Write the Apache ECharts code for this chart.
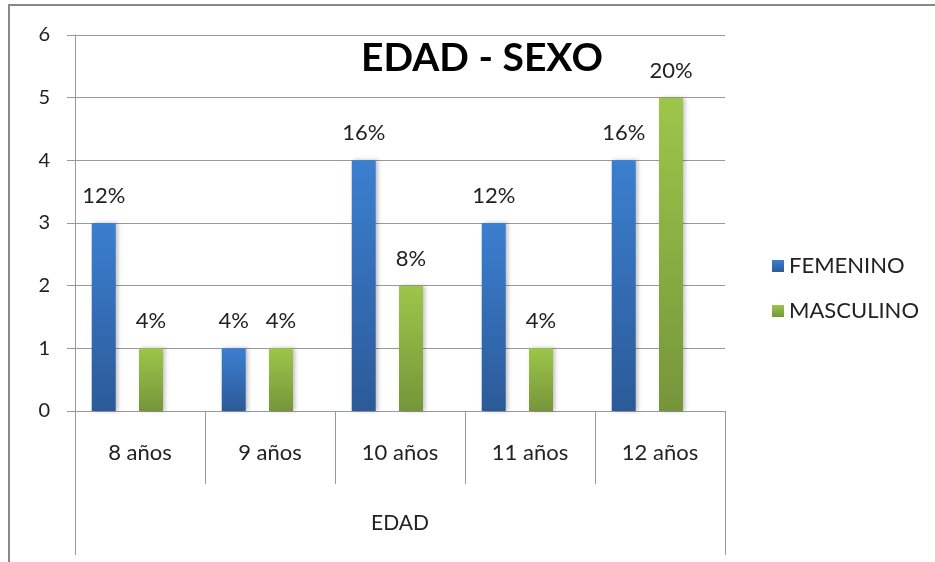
<!DOCTYPE html>
<html>
<head>
<meta charset="utf-8">
<script src="https://cdn.jsdelivr.net/npm/echarts@6/dist/echarts.min.js"></script>
<style>
  html, body { margin: 0; padding: 0; background: #fff; }
  #chart { width: 935px; height: 562px; }
</style>
</head>
<body>
<div id="chart"></div>
<script>
// datos
var categorias = ['8 años', '9 años', '10 años', '11 años', '12 años'];
var femenino = [3, 1, 4, 3, 4];
var masculino = [1, 1, 2, 1, 5];
var pctFemenino = ['12%', '4%', '16%', '12%', '16%'];
var pctMasculino = ['4%', '4%', '8%', '4%', '20%'];

var fuente = 'Lato, "Open Sans", sans-serif';

var myChart = echarts.init(document.getElementById('chart'));

var option = {
    backgroundColor: '#fff',
    animation: false,
    title: {
        text: 'EDAD - SEXO',
        left: 477,
        textAlign: 'center',
        top: 34,
        textStyle: { fontFamily: fuente, fontSize: 39, fontWeight: 'bold', color: '#000' }
    },
    legend: {
        orient: 'vertical',
        left: 767,
        top: 250,
        itemWidth: 12,
        itemHeight: 12,
        itemGap: 23,
        icon: 'rect',
        data: ['FEMENINO', 'MASCULINO'],
        textStyle: { fontFamily: fuente, fontSize: 22, color: '#222' }
    },
    graphic: [{
        type: 'rect',
        shape: { x: 9, y: 5, width: 940, height: 600 },
        style: { fill: 'none', stroke: '#888', lineWidth: 2 },
        silent: true
    }],
    grid: {
        left: 75,
        right: 210,
        top: 35,
        bottom: 151
    },
    xAxis: [{
        type: 'category',
        data: categorias,
        position: 'bottom',
        axisLine: { lineStyle: { color: '#999', width: 1 } },
        axisTick: { show: true, length: 73, lineStyle: { color: '#999' } },
        axisLabel: { margin: 31, fontFamily: fuente, fontSize: 22, color: '#222' }
    }, {
        type: 'category',
        data: ['EDAD'],
        position: 'bottom',
        axisLine: { show: false },
        axisTick: { show: true, length: 144, lineStyle: { color: '#999' } },
        axisLabel: { margin: 102, fontFamily: fuente, fontSize: 21, color: '#222' }
    }],
    yAxis: {
        type: 'value',
        min: 0,
        max: 6,
        interval: 1,
        axisLine: { show: true, lineStyle: { color: '#999' } },
        axisTick: { show: true, length: 8, lineStyle: { color: '#999' } },
        axisLabel: { margin: 25, fontFamily: fuente, fontSize: 20, color: '#222' },
        splitLine: { lineStyle: { color: '#999' } }
    },
    series: [
        {
            name: 'FEMENINO',
            type: 'bar',
            data: femenino,
            barWidth: 24,
            itemStyle: {
                color: new echarts.graphic.LinearGradient(0, 0, 0, 1, [
                    { offset: 0, color: '#3b7fd0' },
                    { offset: 1, color: '#2c5a98' }
                ]),
                shadowBlur: 4,
                shadowOffsetX: 2,
                shadowColor: 'rgba(0,0,0,0.25)'
            },
            label: {
                show: true,
                position: 'top',
                distance: 16,
                fontFamily: fuente,
                fontSize: 22,
                color: '#222',
                formatter: function (p) { return pctFemenino[p.dataIndex]; }
            }
        },
        {
            name: 'MASCULINO',
            type: 'bar',
            data: masculino,
            barWidth: 24,
            itemStyle: {
                color: new echarts.graphic.LinearGradient(0, 0, 0, 1, [
                    { offset: 0, color: '#9dc64a' },
                    { offset: 1, color: '#76953a' }
                ]),
                shadowBlur: 4,
                shadowOffsetX: 2,
                shadowColor: 'rgba(0,0,0,0.25)'
            },
            label: {
                show: true,
                position: 'top',
                distance: 16,
                fontFamily: fuente,
                fontSize: 22,
                color: '#222',
                formatter: function (p) { return pctMasculino[p.dataIndex]; }
            }
        },
        {
            // hueco vacio a la derecha, las barras de Excel quedan algo a la izquierda
            name: 'hueco',
            type: 'bar',
            data: [null, null, null, null, null],
            barWidth: 2,
            barGap: '97%',
            silent: true,
            itemStyle: { color: 'transparent' }
        }
    ]
};

myChart.setOption(option);
</script>
</body>
</html>
